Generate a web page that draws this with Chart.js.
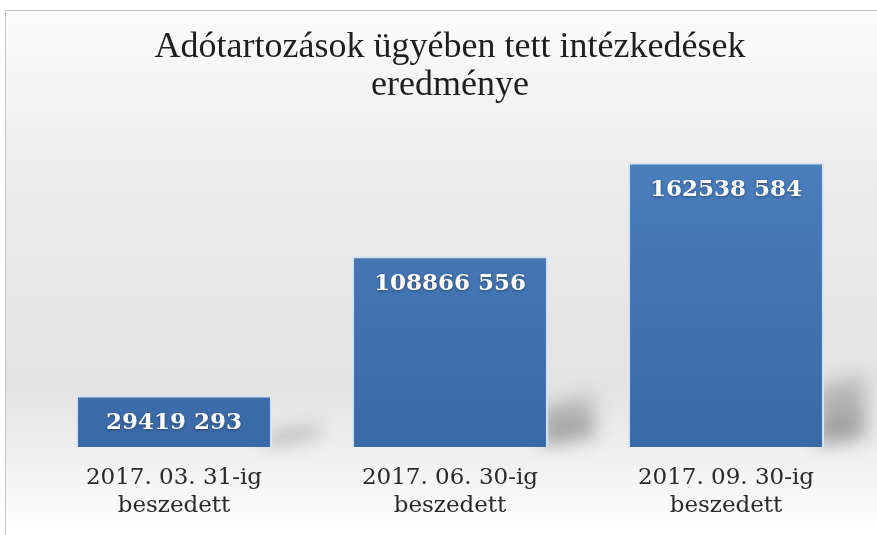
<!DOCTYPE html>
<html>
<head>
<meta charset="utf-8">
<script src="https://cdn.jsdelivr.net/npm/chart.js@4/dist/chart.umd.min.js"></script>
<style>
  html, body { margin: 0; padding: 0; background: #fff; }
  #wrap { width: 877px; height: 535px; }
</style>
</head>
<body>
<div id="wrap"><canvas id="barChart" width="877" height="535"></canvas></div>
<script>
const titleLines = ["Adótartozások ügyében tett intézkedések", "eredménye"];
const categories = [
  ["2017. 03. 31-ig", "beszedett"],
  ["2017. 06. 30-ig", "beszedett"],
  ["2017. 09. 30-ig", "beszedett"]
];
const collected = [29419293, 108866556, 162538584];

// "29419 293" style: space only before the last three digits
const fmt = v => Math.floor(v / 1000) + " " + String(v % 1000).padStart(3, "0");

const backdrop = {
  id: "backdrop",
  beforeDraw(chart) {
    const ctx = chart.ctx;
    const g = ctx.createLinearGradient(0, 10, 0, chart.height);
    g.addColorStop(0, "#fcfcfc");
    g.addColorStop(0.3, "#ededed");
    g.addColorStop(0.72, "#e3e3e3");
    g.addColorStop(1, "#ffffff");
    ctx.save();
    ctx.fillStyle = "#ffffff";
    ctx.fillRect(0, 0, chart.width, chart.height);
    ctx.fillStyle = g;
    ctx.fillRect(5, 10, chart.width, chart.height);
    ctx.strokeStyle = "#c4c4c4";
    ctx.lineWidth = 1;
    ctx.strokeRect(5.5, 10.5, chart.width + 10, chart.height + 10);
    ctx.restore();
  },
  // soft perspective shadow at the lower right of each bar
  beforeDatasetsDraw(chart) {
    const ctx = chart.ctx;
    const meta = chart.getDatasetMeta(0);
    ctx.save();
    ctx.filter = "blur(9px)";
    meta.data.forEach(bar => {
      const right = bar.x + bar.width / 2 - 6;
      const base = bar.base;
      const h = Math.min((base - bar.y) * 0.22, 62);
      const w = Math.min(52, chart.width - 12 - right);
      const sg = ctx.createLinearGradient(0, base - h - 12, 0, base);
      sg.addColorStop(0, "rgba(0,0,0,0.12)");
      sg.addColorStop(1, "rgba(0,0,0,0.38)");
      ctx.fillStyle = sg;
      ctx.beginPath();
      ctx.moveTo(right, base - 2);
      ctx.lineTo(right, base - h);
      ctx.lineTo(right + w, base - h - 12);
      ctx.lineTo(right + w, base - 10);
      ctx.closePath();
      ctx.fill();
    });
    ctx.restore();
  }
};

const valueLabels = {
  id: "valueLabels",
  afterDatasetsDraw(chart) {
    const ctx = chart.ctx;
    const meta = chart.getDatasetMeta(0);
    ctx.save();
    ctx.font = "bold 23px 'DejaVu Serif'";
    ctx.fillStyle = "#ffffff";
    ctx.textAlign = "center";
    ctx.textBaseline = "middle";
    ctx.shadowColor = "rgba(0,0,0,0.4)";
    ctx.shadowBlur = 3;
    ctx.shadowOffsetY = 1;
    meta.data.forEach((bar, i) => {
      ctx.fillText(fmt(collected[i]), bar.x, bar.y + 28);
    });
    ctx.restore();
  }
};

const ctx = document.getElementById("barChart").getContext("2d");
const barFill = ctx.createLinearGradient(0, 150, 0, 447);
barFill.addColorStop(0, "#4a7ebd");
barFill.addColorStop(1, "#3a69a7");

new Chart(ctx, {
  type: "bar",
  data: {
    labels: categories,
    datasets: [{
      data: collected,
      backgroundColor: barFill,
      borderColor: "#d6e3f2",
      borderWidth: 2,
      barPercentage: 0.71,
      categoryPercentage: 1
    }]
  },
  options: {
    responsive: false,
    animation: false,
    layout: { padding: { left: 36, right: 13, top: 0, bottom: 6 } },
    scales: {
      y: { display: false, min: 0, max: 170000000 },
      x: {
        grid: { display: false },
        border: { display: false },
        ticks: {
          color: "#2a2a2a",
          padding: 9,
          font: { family: "'DejaVu Serif'", size: 23, lineHeight: 1.22 }
        }
      }
    },
    plugins: {
      legend: { display: false },
      tooltip: { enabled: false },
      title: {
        display: true,
        text: titleLines,
        color: "#1e1e1e",
        padding: { top: 28, bottom: 45 },
        font: { family: "'Liberation Serif'", size: 36, weight: "normal", lineHeight: 1.06 }
      }
    }
  },
  plugins: [backdrop, valueLabels]
});
</script>
</body>
</html>
